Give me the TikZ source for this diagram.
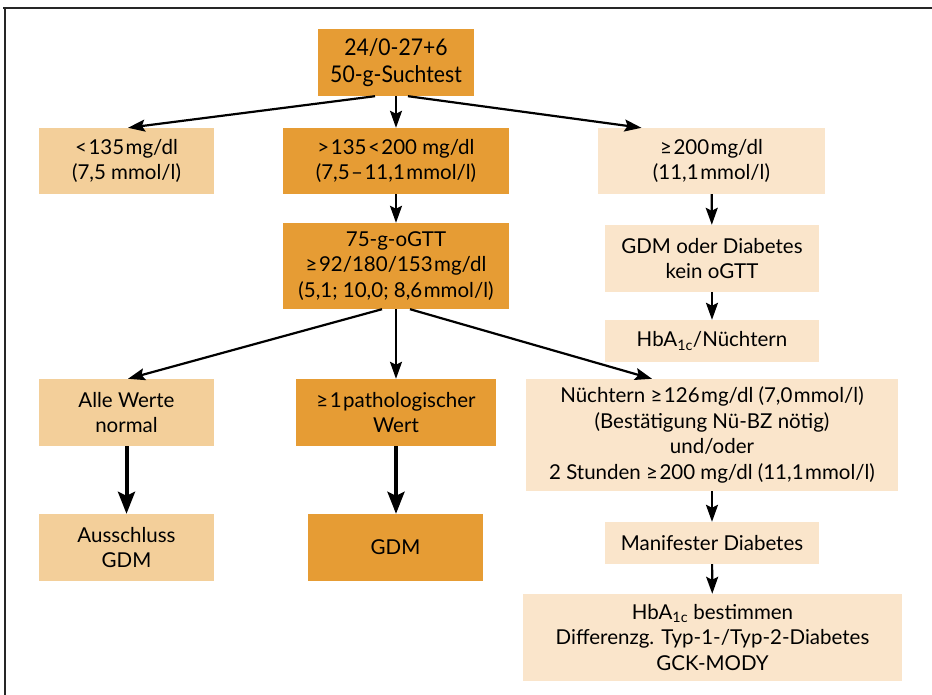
\documentclass[tikz,border=0pt]{standalone}
\usepackage{fontspec}
\setmainfont{Lato}
\usepackage{graphicx}
\usetikzlibrary{arrows.meta}
\definecolor{dunkel}{HTML}{E69C34}
\definecolor{mittel}{HTML}{F3CF9A}
\definecolor{blass}{HTML}{FAE5CB}
\tikzstyle{cell}=[inner sep=0pt, align=center, font=\fontsize{20.5}{25.5}\selectfont]
\tikzstyle{darkcell}=[cell, fill=dunkel]
\tikzstyle{midcell}=[cell, fill=mittel]
\tikzstyle{palecell}=[cell, fill=blass]
\newcommand{\darkcell}{\node[darkcell]}
\newcommand{\midcell}{\node[midcell]}
\newcommand{\palecell}{\node[palecell]}
\newcommand{\narrow}[1]{\scalebox{0.92}[1]{#1}}
\newcommand{\ts}{\kern1.5pt}

\begin{document}
\begin{tikzpicture}[x=1pt, y=-1pt
  ,every edge/.style={draw, line width=2.2pt, -{Stealth[length=17pt, width=12pt, inset=3pt]}}
  ,thick edge/.style={line width=4pt, -{Stealth[length=22pt, width=17pt, inset=4pt]}}
]
\useasboundingbox (0,0) rectangle (932,695);
\draw[line width=2pt, black!85] (3,8) -- (932,8);
\draw[line width=2pt, black!85] (5,8) -- (5,695);

\darkcell (b0) at (396,62.5) [minimum width=156, minimum height=67, font=\fontsize{23}{27}\selectfont]{\narrow{24/0-27+6}\\\narrow{50-g-Suchtest}};
\midcell (l1) at (126.5,161) [minimum width=175, minimum height=66]{<\ts135\ts mg/dl\\(7,5 mmol/l)};
\darkcell (m1) at (396,161) [minimum width=226, minimum height=66]{>\ts135\ts<\ts200 mg/dl\\(7,5\ts--\ts11,1\ts mmol/l)};
\palecell (r1) at (711.5,161) [minimum width=227, minimum height=66]{≥\ts200\ts mg/dl\\(11,1\ts mmol/l)};
\darkcell (m2) at (396,266) [minimum width=226, minimum height=86]{75-g-oGTT\\≥\ts92/180/153\ts mg/dl\\(5,1; 10,0; 8,6\ts mmol/l)};
\palecell (r2) at (712,258.5) [minimum width=214, minimum height=67]{GDM oder Diabetes\\kein oGTT};
\palecell (r3) at (712,341) [minimum width=214, minimum height=42]{HbA\textsubscript{1c}/Nüchtern};
\midcell (l4) at (126.5,412.5) [minimum width=175, minimum height=67]{Alle Werte\\normal};
\darkcell (m4) at (396,412.5) [minimum width=200, minimum height=67]{≥\ts1\ts pathologischer\\Wert};
\palecell (r4) at (712,435) [minimum width=372, minimum height=112]{Nüchtern ≥\ts126\ts mg/dl (7,0\ts mmol/l)\\(Bestätigung Nü-BZ nötig)\\und/oder\\2 Stunden ≥\ts200 mg/dl (11,1\ts mmol/l)};
\midcell (l5) at (126.5,547.5) [minimum width=175, minimum height=67]{Ausschluss\\GDM};
\darkcell (m5) at (395.5,547.5) [minimum width=175, minimum height=67]{GDM};
\palecell (r5) at (712,543) [minimum width=214, minimum height=42]{Manifester Diabetes};
\palecell (r6) at (712.5,637.5) [minimum width=379, minimum height=87]{HbA\textsubscript{1c} bestimmen\\Differenzg. Typ-1-/Typ-2-Diabetes\\GCK-MODY};
\path
([xshift=-21pt]b0.south) edge ([xshift=1.5pt]l1.north)
(b0.south) edge (m1.north)
([xshift=12pt]b0.south) edge ([xshift=-70pt]r1.north)
(m1) edge (m2)
([xshift=-14pt]m2.south) edge ([xshift=1.5pt]l4.north)
(m2.south) edge (m4.north)
([xshift=14pt]m2.south) edge ([xshift=-60pt]r4.north)
(r1) edge (r2)
(r2) edge (r3)
(r4) edge (r5)
(r5) edge (r6)
(l4) edge[thick edge] (l5)
(m4) edge[thick edge] (m4.south |- m5.north)
;
\end{tikzpicture}
\end{document}
